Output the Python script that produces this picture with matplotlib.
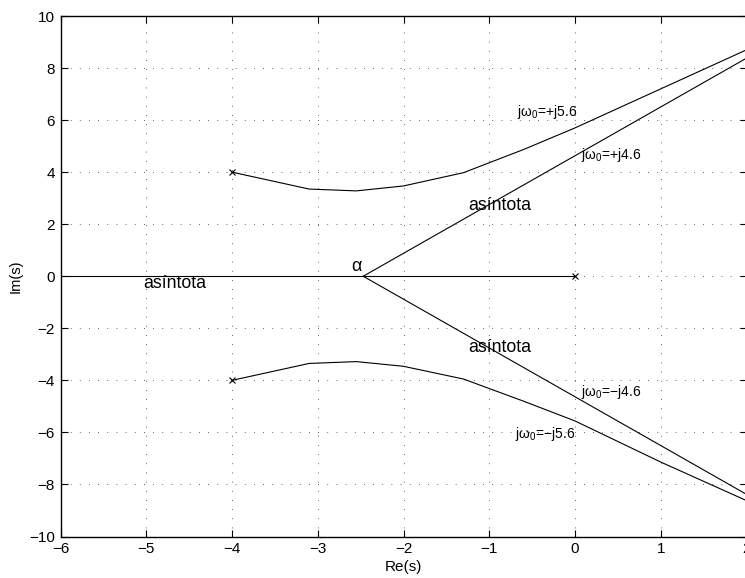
import matplotlib
matplotlib.use("Agg")
import matplotlib.pyplot as plt
import numpy as np

plt.rcParams['font.family'] = ['Liberation Sans', 'DejaVu Sans']
plt.rcParams['mathtext.fontset'] = 'custom'
plt.rcParams['mathtext.rm'] = 'Liberation Sans'
plt.rcParams['mathtext.default'] = 'regular'

# ---- data ----
poles_re = [-4.0, -4.0, 0.0]
poles_im = [4.0, -4.0, 0.0]

real_axis_re = [-6.0, 0.0]
real_axis_im = [0.0, 0.0]

alpha = -2.47
asym_end_re = 2.0
asym_end_im = 8.38

upper_re = [-4.0, -3.1, -2.55, -2.0, -1.3, -0.6, 0.0, 1.0, 2.0]
upper_im = [4.0, 3.35, 3.28, 3.47, 3.98, 4.87, 5.7, 7.2, 8.7]
lower_re = [-4.0, -3.1, -2.55, -2.0, -1.3, -0.6, 0.0, 1.0, 2.0]
lower_im = [-4.0, -3.35, -3.28, -3.46, -3.95, -4.8, -5.56, -7.14, -8.62]

xticks = [-6, -5, -4, -3, -2, -1, 0, 1, 2]
yticks = [-10, -8, -6, -4, -2, 0, 2, 4, 6, 8, 10]

labels = ["asíntota", "asíntota", "asíntota", "α",
          "j$\\omega_0$=+j5.6", "j$\\omega_0$=+j4.6",
          "j$\\omega_0$=\u2212j4.6", "j$\\omega_0$=\u2212j5.6"]
label_x = [-5.04, -1.25, -1.25, -2.61, -0.68, 0.075, 0.075, -0.70]
label_y = [-0.27, 2.73, -2.72, 0.36, 6.3, 4.65, -4.45, -6.08]
label_size = [12.8, 12.8, 12.8, 13, 10, 10, 10, 10]

# ---- figure ----
W, H = 745, 578
fig = plt.figure(figsize=(W / 100, H / 100), dpi=100)
ax = fig.add_axes([60.5 / W, (H - 536.5) / H, 686 / W, 520.5 / H])

lc = 'black'
lw = 0.8
ax.plot(real_axis_re, real_axis_im, color=lc, lw=lw)
ax.plot([alpha, asym_end_re], [0, asym_end_im], color=lc, lw=lw)
ax.plot([alpha, asym_end_re], [0, -asym_end_im], color=lc, lw=lw)
ax.plot(upper_re, upper_im, color=lc, lw=lw)
ax.plot(lower_re, lower_im, color=lc, lw=lw)
ax.plot(poles_re, poles_im, linestyle='none', marker='x', color=lc,
        markersize=5, markeredgewidth=0.8)

for t, x, y, s in zip(labels, label_x, label_y, label_size):
    ax.text(x, y, t, fontsize=s, ha='left', va='center', color='black')

ax.set_xlim(-6, 2)
ax.set_ylim(-10, 10)
ax.set_xticks(xticks)
ax.set_yticks(yticks)
ax.set_xticklabels([str(v).replace('-', '\u2212') for v in xticks], fontsize=11)
ax.set_yticklabels([str(v).replace('-', '\u2212') for v in yticks], fontsize=11)
ax.tick_params(direction='in', length=5, width=0.8, top=True, right=True, pad=4)
ax.grid(True, color='#333333', linestyle=(0, (1, 10)), linewidth=0.6)
for sp in ax.spines.values():
    sp.set_linewidth(1.0)

ax.set_xlabel('Re(s)', fontsize=11, labelpad=3)
ax.set_ylabel('Im(s)', fontsize=10.5, labelpad=5)

fig.savefig('out.png', dpi=100)
